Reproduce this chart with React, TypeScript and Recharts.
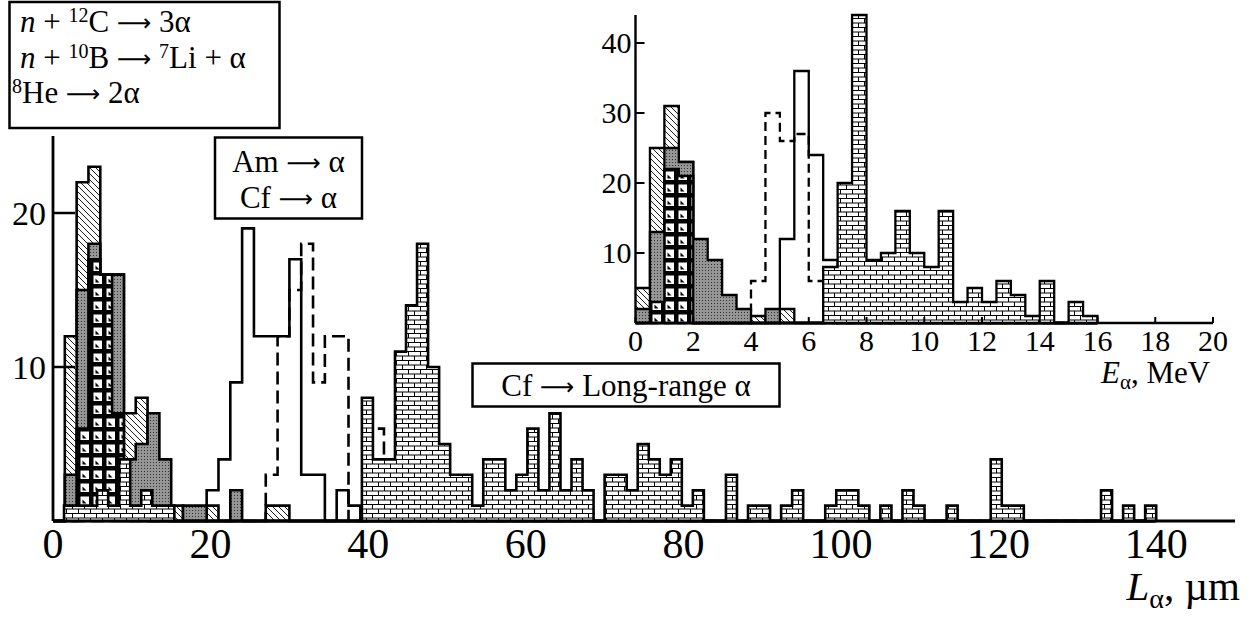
import React from "react";
import { Area, ComposedChart, XAxis, YAxis } from "recharts";

const FONT = '"Liberation Serif", "DejaVu Serif", serif';

// bin widths: main panel in µm, inset in MeV
const L_BIN = 1.5;
const L_BIN_LONG = 1.4;
const E_BIN = 0.5;

// main panel, counts per bin starting at 0 µm
const L_HATCH = [0, 12, 22, 23, 16, 16, 7, 8, 0, 0, 1, 0, 0, 1, 0, 0, 0, 0, 1, 1];
const L_GREY = [0, 3, 15, 18, 16, 16, 4, 5, 7, 4, 0, 1, 1, 0, 0, 2];
const L_SQUARES = [0, 0, 6, 17, 16, 7];
const L_AM = [0, 0, 0, 0, 0, 0, 0, 0, 0, 0, 0, 0, 0, 2, 4, 9, 19, 12, 12, 12, 17, 3, 3, 0, 2, 1];
const L_CF = [0, 0, 0, 0, 0, 0, 0, 0, 0, 0, 0, 0, 0, 0, 0, 0, 0, 0, 3, 12, 15, 18, 9, 12, 12, 0, 0, 6];
const L_LONG = [
  0, 1, 1, 1, 2, 1, 4, 1, 2, 1, 1, 0, 0, 0, 0, 0, 0, 0, 0, 0,
  0, 0, 0, 0, 0, 0, 0, 0, 8, 4, 4, 11, 14, 18, 10, 5, 3, 3, 1, 4,
  4, 2, 3, 6, 2, 7, 2, 4, 2, 0, 3, 3, 2, 5, 4, 3, 4, 1, 2, 0,
  0, 3, 0, 1, 1, 0, 1, 2, 0, 0, 1, 2, 2, 1, 0, 1, 0, 2, 1, 0,
  0, 1, 0, 0, 0, 4, 1, 1, 0, 0, 0, 0, 0, 0, 0, 2, 0, 1, 0, 1,
];
const L_TICKS = [0, 20, 40, 60, 80, 100, 120, 140];
const L_YTICKS = [10, 20];

// inset, counts per 0.5 MeV bin starting at 0
const E_HATCH = [5, 25, 31, 23, 0, 0, 0, 0, 1, 0, 2];
const E_GREY = [2, 13, 25, 23, 12, 9, 4, 2, 0, 2];
const E_SQUARES = [0, 3, 22, 21];
const E_AM = [0, 0, 0, 0, 0, 0, 0, 0, 0, 0, 12, 36, 24, 9];
const E_CF = [0, 0, 0, 0, 0, 0, 0, 0, 6, 30, 26, 27, 6];
const E_LONG = [0, 0, 0, 0, 0, 0, 0, 0, 0, 0, 0, 0, 0, 8, 20, 44, 9, 10, 16, 10, 8, 16, 3, 5, 3, 6, 4, 1, 6, 0, 3, 1];
const E_TICKS = [0, 2, 4, 6, 8, 10, 12, 14, 16, 18, 20];
const E_YTICKS = [10, 20, 30, 40];

type Series = { key: string; bin: number; counts: number[] };

const r6 = (v: number) => Math.round(v * 1e6) / 1e6;

// one row per bin edge of any series; each value is the count of the bin that starts there
function buildRows(series: Series[]) {
  const xs = new Set<number>();
  series.forEach((s) =>
    s.counts.forEach((_, i) => {
      xs.add(r6(i * s.bin));
      xs.add(r6((i + 1) * s.bin));
    })
  );
  return [...xs]
    .sort((a, b) => a - b)
    .map((x) => {
      const row: Record<string, number> = { x };
      series.forEach((s) => {
        row[s.key] = s.counts[Math.floor(x / s.bin + 1e-6)] ?? 0;
      });
      return row;
    });
}

const mainRows = buildRows([
  { key: "am", bin: L_BIN, counts: L_AM },
  { key: "cf", bin: L_BIN, counts: L_CF },
  { key: "hatch", bin: L_BIN, counts: L_HATCH },
  { key: "grey", bin: L_BIN, counts: L_GREY },
  { key: "squares", bin: L_BIN, counts: L_SQUARES },
  { key: "long", bin: L_BIN_LONG, counts: L_LONG },
]);

const insetRows = buildRows([
  { key: "am", bin: E_BIN, counts: E_AM },
  { key: "cf", bin: E_BIN, counts: E_CF },
  { key: "hatch", bin: E_BIN, counts: E_HATCH },
  { key: "grey", bin: E_BIN, counts: E_GREY },
  { key: "squares", bin: E_BIN, counts: E_SQUARES },
  { key: "long", bin: E_BIN, counts: E_LONG },
]);

function Patterns({ p }: { p: string }) {
  return (
    <defs>
      <pattern id={`${p}-hatch`} width={6} height={6} patternUnits="userSpaceOnUse">
        <rect width={6} height={6} fill="#fff" />
        <path d="M-1,-1 L7,7 M-1,5 L1,7 M5,-1 L7,1" stroke="#000" strokeWidth={0.9} />
      </pattern>
      <pattern id={`${p}-grey`} width={3} height={3} patternUnits="userSpaceOnUse">
        <rect width={3} height={3} fill="#969696" />
        <rect width={1} height={1} fill="#333" />
      </pattern>
      <pattern id={`${p}-squares`} width={13} height={13} patternUnits="userSpaceOnUse">
        <rect width={13} height={13} fill="#000" />
        <rect x={2.5} y={2.5} width={8.5} height={8.5} fill="#fff" />
        <path d="M4.5,9.5 L4.5,5.5 L8.5,9.5 Z" fill="#000" />
      </pattern>
      <pattern id={`${p}-long`} width={12} height={9} patternUnits="userSpaceOnUse">
        <rect width={12} height={9} fill="#fff" />
        <path d="M0,0.5 H12 M0,5 H12 M0.5,0.5 V5 M6.5,5 V9" stroke="#000" strokeWidth={1} />
      </pattern>
    </defs>
  );
}

function layers(p: string, w: number, dash: string) {
  const fills: [string, string, string | undefined][] = [
    ["am", "none", undefined],
    ["cf", "none", dash],
    ["hatch", `url(#${p}-hatch)`, undefined],
    ["grey", `url(#${p}-grey)`, undefined],
    ["squares", `url(#${p}-squares)`, undefined],
    ["long", `url(#${p}-long)`, undefined],
  ];
  return fills.map(([key, fill, d]) => (
    <Area
      key={key}
      type="stepAfter"
      dataKey={key}
      stroke="#000"
      strokeWidth={w}
      strokeDasharray={d}
      fill={fill}
      fillOpacity={1}
      dot={false}
      activeDot={false}
      isAnimationActive={false}
    />
  ));
}

const textStyle = { fontFamily: FONT };

// y tick: label outside, short tick line pointing into the plot
const yTick = (len: number, gap: number, size: number, w: number) => (props: any) => {
  const { x, y, payload } = props;
  const ax = x + gap;
  return (
    <g>
      <line x1={ax} x2={ax + len} y1={y} y2={y} stroke="#000" strokeWidth={w} />
      <text x={x} y={y} dy="0.34em" textAnchor="end" fontSize={size} style={textStyle} fill="#000">
        {payload.value}
      </text>
    </g>
  );
};

const xTick = (len: number, gap: number, size: number, w: number) => (props: any) => {
  const { x, y, payload } = props;
  const ay = y - gap;
  return (
    <g>
      {len > 0 && <line x1={x} x2={x} y1={ay} y2={ay - len} stroke="#000" strokeWidth={w} />}
      <text x={x} y={y} dy="0.7em" textAnchor="middle" fontSize={size} style={textStyle} fill="#000">
        {payload.value}
      </text>
    </g>
  );
};

const axisLine = (w: number) => ({ stroke: "#000", strokeWidth: w });

// long thin arrow like the original's
const Arr = () => (
  <tspan style={{ fontFamily: '"DejaVu Sans"' }} fontSize={24} dy={-1}>
    {"⟶"}
  </tspan>
);

const Sup = ({ t }: { t: string }) => (
  <tspan fontSize={20} dy={-10}>
    {t}
  </tspan>
);

export default function App() {
  return (
    <div style={{ position: "relative", width: 1252, height: 618, background: "#fff" }}>
      <style>{`body{margin:0;background:#fff}`}</style>

      <div style={{ position: "absolute", left: 0, top: 0 }}>
        <ComposedChart width={1252} height={618} data={mainRows} margin={{ top: 136, right: 17, bottom: 57, left: 13 }}>
          <Patterns p="m" />
          <XAxis
            type="number"
            dataKey="x"
            domain={[0, 150]}
            ticks={L_TICKS}
            interval={0}
            height={40}
            tickSize={0}
            tickMargin={8}
            tickLine={false}
            axisLine={axisLine(2.8)}
            tick={xTick(0, 8, 42, 2.5)}
          />
          <YAxis
            type="number"
            domain={[0, 25]}
            ticks={L_YTICKS}
            interval={0}
            width={40}
            tickSize={0}
            tickMargin={7}
            tickLine={false}
            axisLine={axisLine(2.8)}
            tick={yTick(22, 7, 34, 2.5)}
          />
          {layers("m", 2.6, "13 6")}
        </ComposedChart>
      </div>

      <div style={{ position: "absolute", left: 0, top: 0 }}>
        <ComposedChart width={1252} height={618} data={insetRows} margin={{ top: 15, right: 39, bottom: 255, left: 595.5 }}>
          <Patterns p="i" />
          <XAxis
            type="number"
            dataKey="x"
            domain={[0, 20]}
            ticks={E_TICKS}
            interval={0}
            height={40}
            tickSize={0}
            tickMargin={7}
            tickLine={false}
            axisLine={axisLine(2.4)}
            tick={xTick(6, 7, 30, 2)}
          />
          <YAxis
            type="number"
            domain={[0, 44]}
            ticks={E_YTICKS}
            interval={0}
            width={40}
            tickSize={0}
            tickMargin={4}
            tickLine={false}
            axisLine={axisLine(2.4)}
            tick={yTick(9, 4, 30, 2)}
          />
          {layers("i", 2.3, "9 5")}
        </ComposedChart>
      </div>

      <svg width={1252} height={618} style={{ position: "absolute", left: 0, top: 0, pointerEvents: "none", fontFamily: FONT }} fill="#000">
        <rect x={9.5} y={2} width={270} height={126} fill="#fff" stroke="#000" strokeWidth={2.5} />
        <text x={20} y={32} fontSize={31}>
          <tspan fontStyle="italic">n</tspan>
          {" + "}
          <Sup t="12" />
          <tspan dy={10}>{"C "}</tspan>
          <Arr />
          <tspan dy={1}>{" 3α"}</tspan>
        </text>
        <text x={20} y={68} fontSize={31}>
          <tspan fontStyle="italic">n</tspan>
          {" + "}
          <Sup t="10" />
          <tspan dy={10}>{"B "}</tspan>
          <Arr />
          <tspan dy={1}>{" "}</tspan>
          <Sup t="7" />
          <tspan dy={10}>{"Li + α"}</tspan>
        </text>
        <text x={12} y={103} fontSize={31}>
          <Sup t="8" />
          <tspan dy={10}>{"He "}</tspan>
          <Arr />
          <tspan dy={1}>{" 2α"}</tspan>
        </text>

        <rect x={215} y={137.5} width={147} height={81} fill="#fff" stroke="#000" strokeWidth={2.5} />
        <text x={288.5} y={172} fontSize={31} textAnchor="middle">
          {"Am "}
          <Arr />
          <tspan dy={1}>{" α"}</tspan>
        </text>
        <text x={288.5} y={208} fontSize={31} textAnchor="middle">
          {"Cf "}
          <Arr />
          <tspan dy={1}>{" α"}</tspan>
        </text>

        <rect x={472.5} y={363.5} width={307} height={43} fill="#fff" stroke="#000" strokeWidth={2.5} />
        <text x={626} y={396} fontSize={31} textAnchor="middle">
          {"Cf "}
          <Arr />
          <tspan dy={1}>{" Long-range α"}</tspan>
        </text>

        <text x={1101} y={383} fontSize={31}>
          <tspan fontStyle="italic">E</tspan>
          <tspan fontSize={21} dy={6}>α</tspan>
          <tspan dy={-6}>{", MeV"}</tspan>
        </text>

        <text x={1240} y={600} fontSize={41} textAnchor="end">
          <tspan fontStyle="italic">L</tspan>
          <tspan fontSize={28} dy={8}>α</tspan>
          <tspan dy={-8}>{", µm"}</tspan>
        </text>
      </svg>
    </div>
  );
}
